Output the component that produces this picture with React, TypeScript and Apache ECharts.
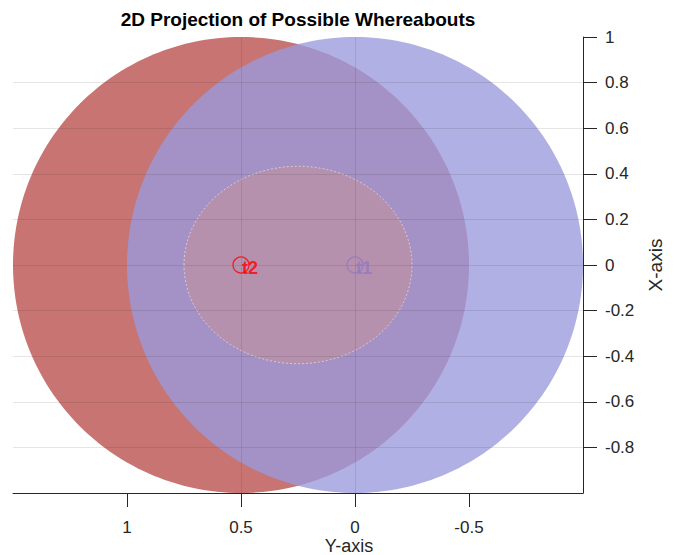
import React, { useEffect, useRef } from "react";
import * as echarts from "echarts";

// Sensors: horizontal coordinate is plotted on the "Y-axis", vertical on the "X-axis"
const sensorNames = ["t1", "t2"];
const sensorH = [0, 0.5];
const sensorV = [0, 0];
const sensorRange = [1, 1];
const rangeFill = ["#9a9adc", "#c77472"];
const rangeOpacity = [0.78, 1];
const markerColors = ["#9378c4", "#ff0000"];
const ellipseSemiMajor = 0.5;
const xTickValues = [1, 0.5, 0, -0.5];
const yTickValues = [1, 0.8, 0.6, 0.4, 0.2, 0, -0.2, -0.4, -0.6, -0.8];

const FONT = '"Liberation Sans", Arial, Helvetica, sans-serif';
const AXIS_COLOR = "#262626";
const GRID_COLOR = "rgba(38,38,38,0.12)";
const N = 240;

function ellipsePoints(api: any, cx: number, cy: number, a: number, b: number, rot: number) {
  const pts: number[][] = [];
  for (let k = 0; k <= N; k++) {
    const t = (2 * Math.PI * k) / N;
    const ex = a * Math.cos(t);
    const ey = b * Math.sin(t);
    const x = cx + ex * Math.cos(rot) - ey * Math.sin(rot);
    const y = cy + ex * Math.sin(rot) + ey * Math.cos(rot);
    pts.push(api.coord([x, y]));
  }
  return pts;
}

export default function App() {
  const ref = useRef<HTMLDivElement>(null);
  useEffect(() => {
    if (!ref.current) return;
    const chart = echarts.init(ref.current, undefined, { renderer: "svg" });

    // draw t2 range first, then t1 on top
    const order = [1, 0];
    const rangeData = order.map((i) => [sensorH[i], sensorV[i], sensorRange[i], i]);

    // ellipse with foci at the two sensors
    const fx = (sensorH[0] + sensorH[1]) / 2;
    const fy = (sensorV[0] + sensorV[1]) / 2;
    const c = Math.hypot(sensorH[1] - sensorH[0], sensorV[1] - sensorV[0]) / 2;
    const bMinor = Math.sqrt(ellipseSemiMajor * ellipseSemiMajor - c * c);
    const rot = Math.atan2(sensorV[1] - sensorV[0], sensorH[1] - sensorH[0]);

    const series: any[] = [
      {
        type: "custom",
        z: 1,
        silent: true,
        encode: { x: 0, y: 1 },
        data: rangeData,
        renderItem: (params: any, api: any) => {
          const idx = api.value(3);
          const r = api.value(2);
          return {
            type: "polygon",
            shape: { points: ellipsePoints(api, api.value(0), api.value(1), r, r, 0) },
            style: { fill: rangeFill[idx], opacity: rangeOpacity[idx] },
          };
        },
      },
      {
        type: "custom",
        z: 1,
        silent: true,
        encode: { x: 0, y: 1 },
        data: [[fx, fy, ellipseSemiMajor, bMinor]],
        renderItem: (params: any, api: any) => ({
          type: "polygon",
          shape: { points: ellipsePoints(api, api.value(0), api.value(1), api.value(2), api.value(3), rot) },
          style: {
            fill: "#b591ad",
            stroke: "rgba(255,255,255,0.5)",
            lineWidth: 1,
            lineDash: [2, 2],
          },
        }),
      },
    ];

    sensorNames.forEach((name, i) => {
      series.push({
        type: "scatter",
        name,
        z: 10,
        symbol: "circle",
        symbolSize: 16,
        itemStyle: { color: "rgba(0,0,0,0)", borderColor: markerColors[i], borderWidth: 1.3 },
        label: {
          show: true,
          formatter: name,
          position: "inside",
          align: "left",
          verticalAlign: "middle",
          offset: [1, 3],
          color: markerColors[i],
          fontFamily: FONT,
          fontWeight: "bold",
          fontSize: 18,
        },
        data: [[sensorH[i], sensorV[i]]],
      });
    });

    chart.setOption({
      animation: false,
      backgroundColor: "#ffffff",
      grid: { left: 13, right: 95, top: 37, bottom: 62 },
      xAxis: {
        type: "value",
        inverse: true,
        min: -1,
        max: 1.5,
        interval: 0.5,
        z: 3,
        axisLine: { show: true, onZero: false, lineStyle: { color: AXIS_COLOR, width: 1 } },
        axisTick: { show: true, inside: false, length: 14, customValues: xTickValues, lineStyle: { color: AXIS_COLOR } },
        axisLabel: {
          customValues: xTickValues,
          margin: 26,
          color: AXIS_COLOR,
          fontFamily: FONT,
          fontSize: 17,
        },
        splitLine: { show: true, showMinLine: false, showMaxLine: false, lineStyle: { color: GRID_COLOR, width: 1 } },
      },
      yAxis: {
        type: "value",
        position: "right",
        min: -1,
        max: 1,
        interval: 0.2,
        z: 3,
        name: "X-axis",
        nameLocation: "middle",
        nameRotate: 90,
        nameGap: 63,
        nameTextStyle: { color: AXIS_COLOR, fontFamily: FONT, fontSize: 19 },
        axisLine: { show: true, onZero: false, lineStyle: { color: AXIS_COLOR, width: 1 } },
        axisTick: { show: true, inside: false, length: 14, customValues: yTickValues, lineStyle: { color: AXIS_COLOR } },
        axisLabel: {
          customValues: yTickValues,
          margin: 22,
          color: AXIS_COLOR,
          fontFamily: FONT,
          fontSize: 17,
          formatter: (v: number) => String(Math.round(v * 10) / 10),
        },
        splitLine: { show: true, showMinLine: false, showMaxLine: true, lineStyle: { color: GRID_COLOR, width: 1 } },
      },
      graphic: [
        {
          type: "text",
          x: 298,
          y: 19,
          z: 20,
          style: {
            text: "2D Projection of Possible Whereabouts",
            fill: "#000000",
            font: `bold 19px ${FONT}`,
            textAlign: "center",
            textVerticalAlign: "middle",
          },
        },
        {
          type: "text",
          x: 349,
          y: 546,
          z: 20,
          style: {
            text: "Y-axis",
            fill: AXIS_COLOR,
            font: `18px ${FONT}`,
            textAlign: "center",
            textVerticalAlign: "middle",
          },
        },
      ],
      series,
    });
    return () => chart.dispose();
  }, []);
  return (
    <div
      ref={ref}
      style={{ position: "fixed", left: 0, top: 0, width: 678, height: 555, background: "#fff" }}
    />
  );
}
